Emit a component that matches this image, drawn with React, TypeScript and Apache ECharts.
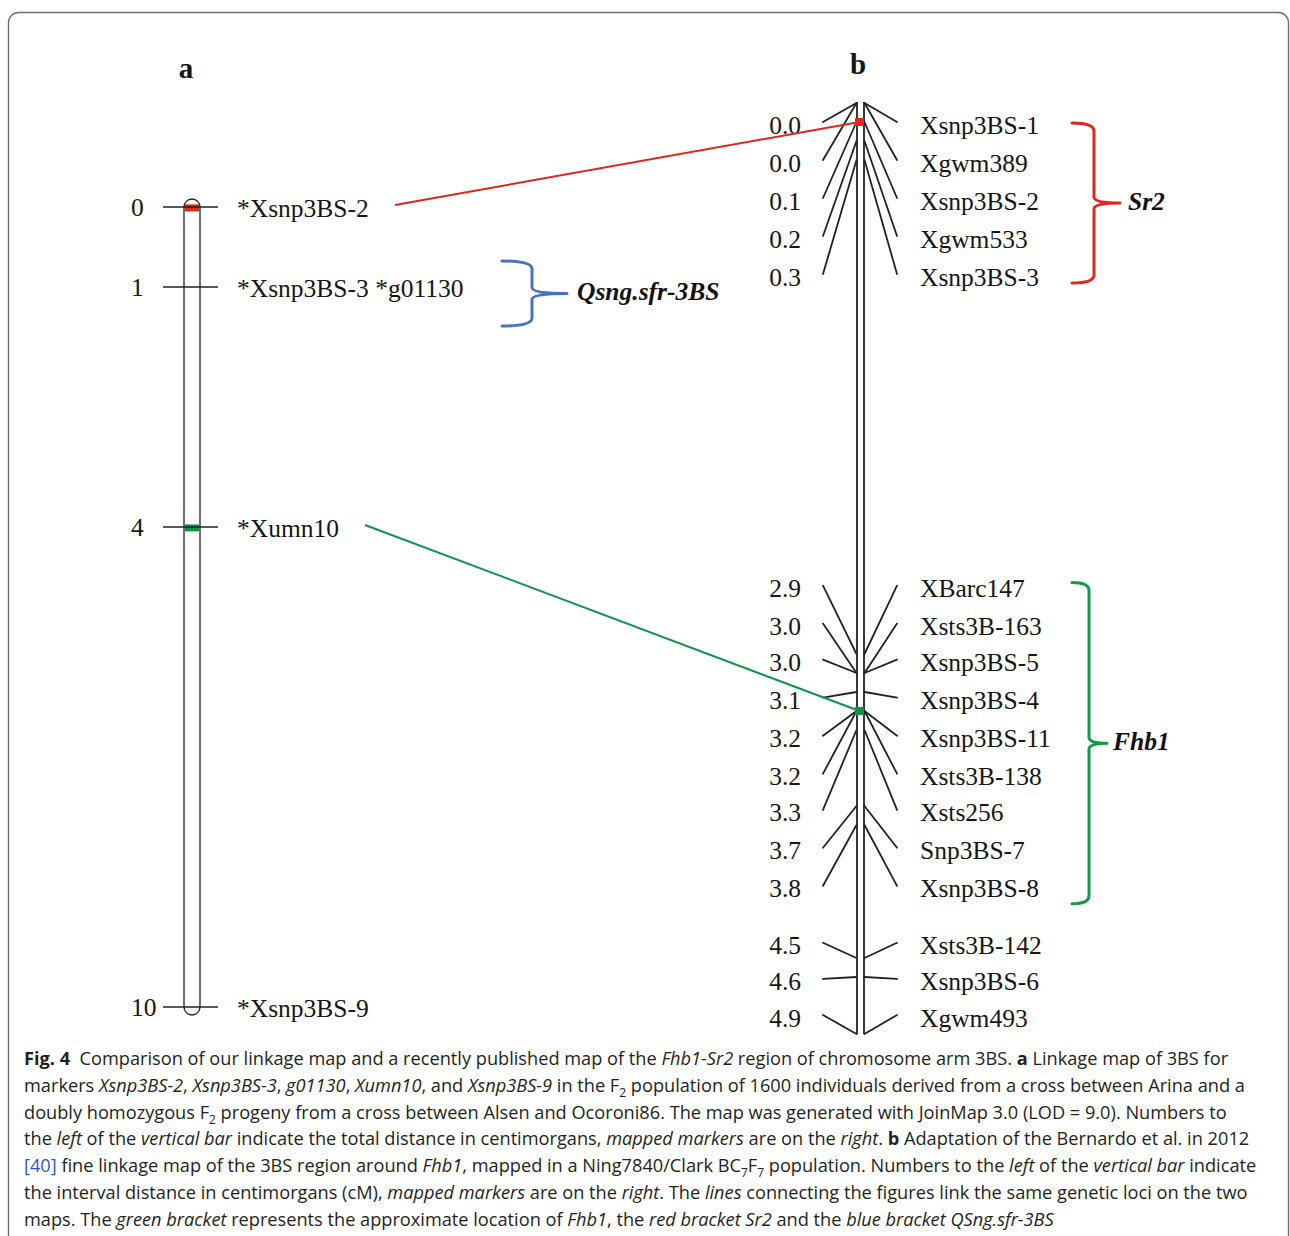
import React, { useEffect, useRef } from "react";
import * as echarts from "echarts";

// ---------------- data ----------------
// Panel a: our linkage map of 3BS (total distance, cM)
const mapALength = 10;
const mapAPositions = [0, 1, 4, 10];
const mapATickLabels = ["0", "1", "4", "10"];
const mapAMarkers = ["*Xsnp3BS-2", "*Xsnp3BS-3 *g01130", "*Xumn10", "*Xsnp3BS-9"];

// Panel b: Bernardo et al. 2012 fine map (interval distance, cM)
const mapBLength = 4.9;
const mapBMarkers = [
  "Xsnp3BS-1", "Xgwm389", "Xsnp3BS-2", "Xgwm533", "Xsnp3BS-3",
  "XBarc147", "Xsts3B-163", "Xsnp3BS-5", "Xsnp3BS-4", "Xsnp3BS-11",
  "Xsts3B-138", "Xsts256", "Snp3BS-7", "Xsnp3BS-8",
  "Xsts3B-142", "Xsnp3BS-6", "Xgwm493",
];
const mapBPositions = [0.0, 0.0, 0.1, 0.2, 0.3, 2.9, 3.0, 3.0, 3.1, 3.2, 3.2, 3.3, 3.7, 3.8, 4.5, 4.6, 4.9];
const mapBTickLabels = ["0.0", "0.0", "0.1", "0.2", "0.3", "2.9", "3.0", "3.0", "3.1", "3.2", "3.2", "3.3", "3.7", "3.8", "4.5", "4.6", "4.9"];
// where each marker's label sits along map b (labels spread apart, in map units)
const mapBLabelSlots = [0.1, 0.3, 0.5, 0.7, 0.9, 2.54, 2.74, 2.93, 3.13, 3.33, 3.53, 3.72, 3.92, 4.12, 4.42, 4.61, 4.8];

// lines linking the same loci on the two maps
const linkFrom = [0, 2]; // marker index on map a
const linkTo = [0.1, 3.2]; // cM position on map b
const linkColors = ["#e1261c", "#11944a"];

// brackets
const bracketNames = ["Sr2", "Fhb1", "Qsng.sfr-3BS"];
const bracketPanels = ["b", "b", "a"];
const bracketFirst = [0, 5, 1];
const bracketLast = [4, 13, 1];
const bracketColors = ["#e1261c", "#13994b", "#4a72c4"];

const captionLines = [
  "{b|Fig. 4}  Comparison of our linkage map and a recently published map of the {i|Fhb1-Sr2} region of chromosome arm 3BS. {b|a} Linkage map of 3BS for",
  "markers {i|Xsnp3BS-2}, {i|Xsnp3BS-3}, {i|g01130}, {i|Xumn10}, and {i|Xsnp3BS-9} in the F{sub|2} population of 1600 individuals derived from a cross between Arina and a",
  "doubly homozygous F{sub|2} progeny from a cross between Alsen and Ocoroni86. The map was generated with JoinMap 3.0 (LOD = 9.0). Numbers to",
  "the {i|left} of the {i|vertical bar} indicate the total distance in centimorgans, {i|mapped markers} are on the {i|right}. {b|b} Adaptation of the Bernardo et al. in 2012",
  "{link|[40]} fine linkage map of the 3BS region around {i|Fhb1}, mapped in a Ning7840/Clark BC{sub|7}F{sub|7} population. Numbers to the {i|left} of the {i|vertical bar} indicate",
  "the interval distance in centimorgans (cM), {i|mapped markers} are on the {i|right}. The {i|lines} connecting the figures link the same genetic loci on the two",
  "maps. The {i|green bracket} represents the approximate location of {i|Fhb1}, the {i|red bracket Sr2} and the {i|blue bracket QSng.sfr-3BS}",
];

// ---------------- layout / style ----------------
const FIG_W = 1290;
const FIG_H = 1236;
const A_TOP = 207;
const A_PX_PER_CM = 80;
const B_TOP = 103;
const B_PX_PER_CM = 190;
const LA = { barL: 184, barR: 200, tickL: 163, tickR: 218, numX: 131, nameX: 237 };
const LB = { barL: 857, barR: 864, lineL: 823, lineR: 897, numX: 801, nameX: 920, sqL: 855, sqR: 864 };
const linkStartX = [395, 365];
const bracketGeom: Record<string, any> = {
  Sr2: { x0: 1072, xv: 1094, xn: 1120, labelX: 1128, padTop: 1, padBot: 9 },
  Fhb1: { x0: 1072, xv: 1089, xn: 1107, labelX: 1113, padTop: -3, padBot: 18 },
  "Qsng.sfr-3BS": { x0: 502, xv: 532, xn: 567, labelX: 577, padTop: -26, padBot: 39 },
};

const SERIF = "'Liberation Serif', 'Times New Roman', serif";
const SANS = "'Open Sans', 'Noto Sans', sans-serif";
const INK = "#161616";
const LINE_INK = "#222222";
const LABEL_SIZE = 25.5;

function txt(text: string, x: number, y: number, align: string, extra: any = {}) {
  return {
    type: "text",
    style: {
      text,
      x,
      y,
      fill: INK,
      fontFamily: SERIF,
      fontSize: LABEL_SIZE,
      align,
      textAlign: align,
      verticalAlign: "middle",
      textVerticalAlign: "middle",
      ...extra,
    },
  };
}

function bracketPath(x0: number, xv: number, xn: number, top: number, bot: number) {
  const mid = (top + bot) / 2;
  const r = 8;
  const rn = 6;
  return [
    `M ${x0} ${top}`,
    `Q ${xv} ${top} ${xv} ${top + r}`,
    `L ${xv} ${mid - rn}`,
    `Q ${xv} ${mid} ${xn} ${mid}`,
    `M ${xn} ${mid}`,
    `Q ${xv} ${mid} ${xv} ${mid + rn}`,
    `L ${xv} ${bot - r}`,
    `Q ${xv} ${bot} ${x0} ${bot}`,
  ].join(" ");
}

function renderBracket(api: any, k: number, yFirst: number, yLast: number) {
  const g = bracketGeom[bracketNames[k]];
  const top = yFirst + g.padTop;
  const bot = yLast + g.padBot;
  const mid = (top + bot) / 2;
  return {
    type: "group",
    children: [
      {
        type: "path",
        shape: { pathData: bracketPath(g.x0, g.xv, g.xn, top, bot) },
        style: { fill: "none", stroke: bracketColors[k], lineWidth: 3, lineCap: "round", lineJoin: "round" },
      },
      txt(bracketNames[k], g.labelX, mid - 2, "left", { fontWeight: "bold", fontStyle: "italic", fill: "#111" }),
    ],
  };
}

export default function App() {
  const ref = useRef<HTMLDivElement>(null);

  useEffect(() => {
    const el = ref.current!;
    const chart = echarts.init(el, null, { renderer: "svg", width: FIG_W, height: FIG_H });

    const option: any = {
      animation: false,
      backgroundColor: "#ffffff",
      grid: [
        { left: 0, top: A_TOP, width: FIG_W, height: A_PX_PER_CM * mapALength, outerBoundsMode: "none", containLabel: false },
        { left: 0, top: B_TOP, width: FIG_W, height: B_PX_PER_CM * mapBLength, outerBoundsMode: "none", containLabel: false },
      ],
      xAxis: [
        { type: "value", gridIndex: 0, min: 0, max: FIG_W, show: false },
        { type: "value", gridIndex: 1, min: 0, max: FIG_W, show: false },
      ],
      yAxis: [
        { type: "value", gridIndex: 0, min: 0, max: mapALength, inverse: true, show: false },
        { type: "value", gridIndex: 1, min: 0, max: mapBLength, inverse: true, show: false },
      ],
      series: [
        // ---- map a: chromosome bar
        {
          type: "custom",
          name: "map a",
          xAxisIndex: 0,
          yAxisIndex: 0,
          silent: true,
          clip: false,
          z: 2,
          data: [[0, mapALength]],
          renderItem: (_p: any, api: any) => {
            const [x0, y0] = api.coord([LA.barL, api.value(0)]);
            const [x1, y1] = api.coord([LA.barR, api.value(1)]);
            const r = (x1 - x0) / 2;
            return {
              type: "rect",
              shape: { x: x0, y: y0 - r, width: x1 - x0, height: y1 - y0 + 2 * r, r },
              style: { fill: "none", stroke: LINE_INK, lineWidth: 1.3 },
            };
          },
        },
        // ---- map a: coloured bands of linked loci
        {
          type: "custom",
          name: "map a bands",
          xAxisIndex: 0,
          yAxisIndex: 0,
          silent: true,
          clip: false,
          z: 3,
          data: linkFrom.map((m, k) => [mapAPositions[m], k]),
          renderItem: (params: any, api: any) => {
            const k = params.dataIndex;
            const [x0, y] = api.coord([LA.barL, api.value(0)]);
            const [x1] = api.coord([LA.barR, api.value(0)]);
            return {
              type: "rect",
              shape: { x: x0 + 0.7, y: y - 2.6, width: x1 - x0 - 1.4, height: 7 },
              style: { fill: linkColors[k] },
            };
          },
        },
        // ---- map a: ticks, distances, marker names
        {
          type: "custom",
          name: "map a markers",
          xAxisIndex: 0,
          yAxisIndex: 0,
          silent: true,
          clip: false,
          z: 4,
          data: mapAPositions.map((p, i) => [p, i]),
          renderItem: (params: any, api: any) => {
            const i = params.dataIndex;
            const [xl, y] = api.coord([LA.tickL, api.value(0)]);
            const [xr] = api.coord([LA.tickR, api.value(0)]);
            return {
              type: "group",
              children: [
                { type: "line", shape: { x1: xl, y1: y, x2: xr, y2: y }, style: { stroke: LINE_INK, lineWidth: 1.3 } },
                txt(mapATickLabels[i], LA.numX, y, "left"),
                txt(mapAMarkers[i], LA.nameX, y + 1, "left"),
              ],
            };
          },
        },
        // ---- map a: bracket
        {
          type: "custom",
          name: "map a brackets",
          xAxisIndex: 0,
          yAxisIndex: 0,
          silent: true,
          clip: false,
          z: 4,
          data: bracketNames
            .map((_n, k) => [mapAPositions[bracketFirst[k]], mapAPositions[bracketLast[k]], k])
            .filter((d) => bracketPanels[d[2]] === "a"),
          renderItem: (_params: any, api: any) => {
            const k = api.value(2);
            const y0 = api.coord([0, api.value(0)])[1];
            const y1 = api.coord([0, api.value(1)])[1];
            return renderBracket(api, k, y0, y1);
          },
        },
        // ---- map b: double bar
        {
          type: "custom",
          name: "map b",
          xAxisIndex: 1,
          yAxisIndex: 1,
          silent: true,
          clip: false,
          z: 2,
          data: [[0, mapBLength]],
          renderItem: (_p: any, api: any) => {
            const [xa, y0] = api.coord([LB.barL, api.value(0)]);
            const [xb, y1] = api.coord([LB.barR, api.value(1)]);
            const st = { stroke: LINE_INK, lineWidth: 1.8 };
            return {
              type: "group",
              children: [
                { type: "line", shape: { x1: xa, y1: y0 - 1, x2: xa, y2: y1 }, style: st },
                { type: "line", shape: { x1: xb, y1: y0 - 1, x2: xb, y2: y1 }, style: st },
              ],
            };
          },
        },
        // ---- map b: markers (diagonal lines, distances, names)
        {
          type: "custom",
          name: "map b markers",
          xAxisIndex: 1,
          yAxisIndex: 1,
          silent: true,
          clip: false,
          z: 3,
          data: mapBPositions.map((p, i) => [p, mapBLabelSlots[i], i]),
          renderItem: (params: any, api: any) => {
            const i = params.dataIndex;
            const [xl, ySlot] = api.coord([LB.lineL, api.value(1)]);
            const [xbl, yBar] = api.coord([LB.barL - 0.5, api.value(0)]);
            const [xbr] = api.coord([LB.barR + 0.5, api.value(0)]);
            const [xr] = api.coord([LB.lineR, api.value(1)]);
            const st = { stroke: LINE_INK, lineWidth: 1.8, lineCap: "round" };
            return {
              type: "group",
              children: [
                { type: "line", shape: { x1: xl, y1: ySlot, x2: xbl, y2: yBar }, style: st },
                { type: "line", shape: { x1: xbr, y1: yBar, x2: xr, y2: ySlot }, style: st },
                txt(mapBTickLabels[i], LB.numX, ySlot + 3, "right"),
                txt(mapBMarkers[i], LB.nameX, ySlot + 3, "left"),
              ],
            };
          },
        },
        // ---- map b: linked loci squares
        {
          type: "custom",
          name: "map b links",
          xAxisIndex: 1,
          yAxisIndex: 1,
          silent: true,
          clip: false,
          z: 6,
          data: linkTo.map((t, k) => [t, k]),
          renderItem: (params: any, api: any) => {
            const k = params.dataIndex;
            const [x0, y] = api.coord([LB.sqL, api.value(0)]);
            const [x1] = api.coord([LB.sqR, api.value(0)]);
            return {
              type: "rect",
              shape: { x: x0, y: y - 4, width: x1 - x0, height: 8 },
              style: { fill: linkColors[k] },
            };
          },
        },
        // ---- map b: brackets
        {
          type: "custom",
          name: "map b brackets",
          xAxisIndex: 1,
          yAxisIndex: 1,
          silent: true,
          clip: false,
          z: 4,
          data: bracketNames
            .map((_n, k) => [mapBLabelSlots[bracketFirst[k]], mapBLabelSlots[bracketLast[k]], k])
            .filter((d) => bracketPanels[d[2]] === "b"),
          renderItem: (_params: any, api: any) => {
            const k = api.value(2);
            const y0 = api.coord([0, api.value(0)])[1];
            const y1 = api.coord([0, api.value(1)])[1];
            return renderBracket(api, k, y0, y1);
          },
        },
      ],
    };

    chart.setOption(option);

    // lines linking the two maps (endpoints through each grid's scales)
    const linkLines = linkFrom.map((m, k) => {
      const p1 = chart.convertToPixel({ gridIndex: 0 } as any, [linkStartX[k], mapAPositions[m]]) as number[];
      const p2 = chart.convertToPixel({ gridIndex: 1 } as any, [(LB.sqL + LB.sqR) / 2, linkTo[k]]) as number[];
      return {
        type: "line",
        z: 5,
        silent: true,
        shape: { x1: p1[0], y1: p1[1] - 2, x2: p2[0], y2: p2[1] },
        style: { stroke: linkColors[k], lineWidth: 2 },
      };
    });

    const capStyle = { fontFamily: SANS, fontSize: 18.2, lineHeight: 26.7, fill: "#231f20" };
    const graphic: any[] = [
      {
        type: "rect",
        silent: true,
        z: 0,
        shape: { x: 8.5, y: 12.5, width: 1280, height: 1400, r: 10 },
        style: { fill: "none", stroke: "#6e6e6e", lineWidth: 1.4 },
      },
      {
        type: "text",
        silent: true,
        z: 5,
        style: { text: "a", x: 186, y: 68, fill: INK, fontFamily: SERIF, fontSize: 29, fontWeight: "bold", align: "center", textAlign: "center", verticalAlign: "middle", textVerticalAlign: "middle" },
      },
      {
        type: "text",
        silent: true,
        z: 5,
        style: { text: "b", x: 858, y: 64, fill: INK, fontFamily: SERIF, fontSize: 29, fontWeight: "bold", align: "center", textAlign: "center", verticalAlign: "middle", textVerticalAlign: "middle" },
      },
      {
        type: "text",
        silent: true,
        z: 5,
        style: {
          text: captionLines.join("\n"),
          x: 24,
          y: 1045,
          align: "left",
          textAlign: "left",
          verticalAlign: "top",
          textVerticalAlign: "top",
          ...capStyle,
          rich: {
            b: { ...capStyle, fontWeight: "bold" },
            i: { ...capStyle, fontStyle: "italic" },
            sub: { ...capStyle, fontSize: 12, lineHeight: 14, verticalAlign: "bottom" },
            link: { ...capStyle, fill: "#2f55c9", color: "#2f55c9" },
          },
        },
      },
      ...linkLines,
    ];
    chart.setOption({ graphic });

    return () => {
      chart.dispose();
    };
  }, []);

  return (
    <div
      ref={ref}
      style={{ position: "fixed", left: 0, top: 0, width: FIG_W, height: FIG_H, background: "#ffffff" }}
    />
  );
}
